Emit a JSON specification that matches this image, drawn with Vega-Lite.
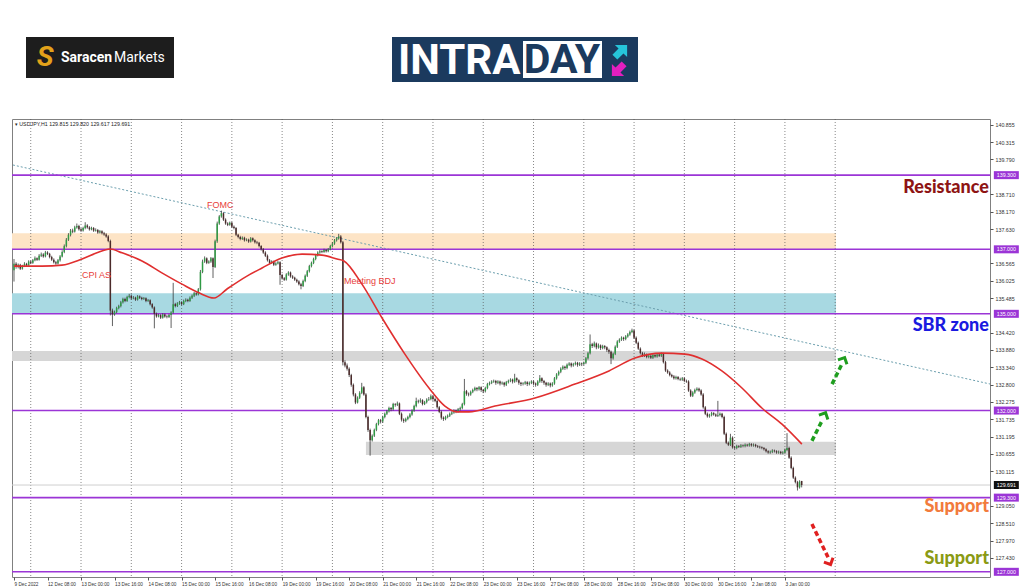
{
"$schema": "https://vega.github.io/schema/vega-lite/v6.json",
"padding": {"left": 10, "top": 0, "right": 0, "bottom": 0},
"spacing": 0,
"background": "white",
"config": {"view": {"stroke": null}, "font": "Liberation Sans", "axis": {"labelOverlap": false, "labelFlush": false, "labelBound": false, "title": null, "grid": false, "domain": false}, "scale": {"continuousPadding": 0}},
"vconcat": [
{
"width": 1014, "height": 118,
"data": {"values": [{}]},
"layer": [
{"mark": {"type": "rect", "color": "#1d1d1d"}, "encoding": {"x": {"datum": 24, "type": "quantitative", "scale": {"domain": [10, 1024], "nice": false, "zero": false}, "axis": null}, "x2": {"datum": 172}, "y": {"datum": 37, "type": "quantitative", "scale": {"domain": [0, 118], "reverse": true, "nice": false, "zero": false}, "axis": null}, "y2": {"datum": 78}}},
{"mark": {"type": "text", "text": "S", "font": "Roboto", "fontSize": 28, "fontWeight": "bold", "fontStyle": "italic", "color": "#e3a21a", "align": "center", "baseline": "middle"}, "encoding": {"x": {"datum": 43, "type": "quantitative"}, "y": {"datum": 58, "type": "quantitative"}}},
{"mark": {"type": "text", "text": "Saracen", "font": "Roboto", "fontSize": 14, "fontWeight": "bold", "color": "white", "align": "left", "baseline": "middle"}, "encoding": {"x": {"datum": 59, "type": "quantitative"}, "y": {"datum": 58, "type": "quantitative"}}},
{"mark": {"type": "text", "text": "Markets", "font": "Roboto", "fontSize": 14, "color": "white", "align": "left", "baseline": "middle"}, "encoding": {"x": {"datum": 112, "type": "quantitative"}, "y": {"datum": 58, "type": "quantitative"}}},
{"mark": {"type": "rect", "color": "#1b3a5e"}, "encoding": {"x": {"datum": 390, "type": "quantitative"}, "x2": {"datum": 636}, "y": {"datum": 37, "type": "quantitative"}, "y2": {"datum": 82}}},
{"mark": {"type": "text", "text": "INTRA", "font": "Roboto", "fontSize": 42, "fontWeight": "bold", "color": "white", "align": "left", "baseline": "middle"}, "encoding": {"x": {"datum": 396, "type": "quantitative"}, "y": {"datum": 61, "type": "quantitative"}}},
{"mark": {"type": "rect", "color": "white"}, "encoding": {"x": {"datum": 521, "type": "quantitative"}, "x2": {"datum": 600}, "y": {"datum": 41, "type": "quantitative"}, "y2": {"datum": 78}}},
{"mark": {"type": "text", "text": "DAY", "font": "Roboto", "fontSize": 41, "fontWeight": "bold", "color": "#1b3a5e", "align": "center", "baseline": "middle"}, "encoding": {"x": {"datum": 560, "type": "quantitative"}, "y": {"datum": 61, "type": "quantitative"}}},
{"mark": {"type": "point", "shape": "M0,-1L1,0L0.4,0L0.4,1L-0.4,1L-0.4,0L-1,0Z", "filled": true, "opacity": 1, "color": "#26c4da", "size": 300, "angle": 45}, "encoding": {"x": {"datum": 619, "type": "quantitative"}, "y": {"datum": 51, "type": "quantitative"}}},
{"mark": {"type": "point", "shape": "M0,-1L1,0L0.4,0L0.4,1L-0.4,1L-0.4,0L-1,0Z", "filled": true, "opacity": 1, "color": "#e31fbf", "size": 300, "angle": 225}, "encoding": {"x": {"datum": 616, "type": "quantitative"}, "y": {"datum": 70, "type": "quantitative"}}}
]
},
{
"width": 978, "height": 458,
"view": {"stroke": "#808080", "strokeWidth": 1},
"layer": [
{"data": {"values": [
{"zone": "orange", "b1": -0.95, "b2": 392.4, "p1": 137.0, "p2": 137.5},
{"zone": "blue", "b1": -0.95, "b2": 392.4, "p1": 135.0, "p2": 135.64},
{"zone": "gray", "b1": -0.95, "b2": 392.4, "p1": 133.54, "p2": 133.85},
{"zone": "gray", "b1": 168, "b2": 392.4, "p1": 130.62, "p2": 131.03}]},
"mark": {"type": "rect"},
"encoding": {
"x": {"field": "b1", "type": "quantitative", "scale": {"domain": [-0.95, 465.9], "nice": false, "zero": false, "padding": 0},
 "axis": {"title": null, "tickCount": 40, "values": [0,16,32,48,64,80,96,112,128,144,160,176,192,208,224,240,256,272,288,304,320,336,352,368],
 "labelExpr": "['9 Dec 2022','12 Dec 08:00','13 Dec 00:00','13 Dec 16:00','14 Dec 08:00','15 Dec 00:00','15 Dec 16:00','16 Dec 08:00','19 Dec 00:00','19 Dec 16:00','20 Dec 08:00','21 Dec 00:00','21 Dec 16:00','22 Dec 08:00','23 Dec 00:00','23 Dec 16:00','27 Dec 08:00','28 Dec 00:00','28 Dec 16:00','29 Dec 08:00','30 Dec 00:00','30 Dec 16:00','2 Jan 08:00','3 Jan 00:00'][round(datum.value/16)]",
 "labelAlign": "left", "labelFontSize": 4.7, "labelColor": "#333", "tickSize": 3, "tickColor": "#555", "domain": false, "grid": false, "labelPadding": 1, "labelOverlap": false, "labelFlush": false, "labelBound": false}},
"x2": {"field": "b2"},
"y": {"field": "p1", "type": "quantitative", "scale": {"domain": [126.839, 141.041], "nice": false, "zero": false, "padding": 0},
 "axis": {"title": null, "orient": "right", "tickCount": 40, "values": [140.855,140.315,139.79,138.71,138.17,137.63,136.565,136.025,135.485,134.42,133.88,133.34,132.8,132.275,131.735,131.195,130.655,130.115,129.05,128.51,127.97,127.43],
 "format": ".3f", "labelFontSize": 5.3, "labelColor": "#333", "tickSize": 3, "tickColor": "#555", "domain": false, "grid": false, "labelPadding": 2, "labelOverlap": false, "labelFlush": false}},
"y2": {"field": "p2"},
"fill": {"field": "zone", "type": "nominal", "scale": {"domain": ["orange", "blue", "gray"], "range": ["#fde4c6", "#a8d9e2", "#d6d6d6"]}, "legend": null}
}},
{"data": {"values": [{"g":8},{"g":32},{"g":56},{"g":80},{"g":104},{"g":128},{"g":152},{"g":176},{"g":200},{"g":224},{"g":248},{"g":272},{"g":296},{"g":320},{"g":344},{"g":368},{"g":392}]},
 "mark": {"type": "rule", "color": "#555", "strokeDash": [1, 2], "strokeWidth": 0.7},
 "encoding": {"x": {"field": "g", "type": "quantitative"}}},
{"data": {"values": [{"b": -0.5, "p": 139.615}, {"b": 465.9, "p": 132.824}]},
 "mark": {"type": "line", "color": "#6c9fae", "strokeDash": [2, 2], "strokeWidth": 1},
 "encoding": {"x": {"field": "b", "type": "quantitative"}, "y": {"field": "p", "type": "quantitative"}}},
{"data": {"values": [{"p": 129.691}]},
 "mark": {"type": "rule", "color": "#cfcfcf", "strokeWidth": 1},
 "encoding": {"y": {"field": "p", "type": "quantitative"}}},
{"data": {"values": [{"p": 139.3}, {"p": 137.0}, {"p": 135.0}, {"p": 132.0}, {"p": 129.3}, {"p": 127.0}]},
 "mark": {"type": "rule", "color": "#9b35d6", "strokeWidth": 1.6},
 "encoding": {"y": {"field": "p", "type": "quantitative"}}},
{"data": {"values": "i,o,h,l,c\n0,136.35,136.70,136.00,136.55\n1,136.55,136.60,136.40,136.45\n2,136.45,136.56,136.41,136.52\n3,136.52,136.55,136.36,136.40\n4,136.40,136.52,136.37,136.48\n5,136.48,136.60,136.45,136.55\n6,136.55,136.58,136.46,136.50\n7,136.50,136.66,136.48,136.62\n8,136.62,136.65,136.54,136.58\n9,136.58,136.70,136.55,136.66\n10,136.66,136.78,136.63,136.72\n11,136.72,136.75,136.64,136.68\n12,136.68,136.85,136.65,136.80\n13,136.80,136.90,136.76,136.84\n14,136.84,136.88,136.74,136.78\n15,136.78,136.95,136.75,136.90\n16,136.90,136.94,136.82,136.86\n17,136.86,136.89,136.72,136.76\n18,136.76,136.80,136.64,136.68\n19,136.68,136.72,136.56,136.60\n20,136.60,136.64,136.52,136.56\n21,136.56,136.70,136.53,136.66\n22,136.66,136.82,136.62,136.78\n23,136.78,136.97,136.75,136.92\n24,136.92,137.15,136.88,137.10\n25,137.10,137.35,137.06,137.30\n26,137.30,137.50,137.26,137.45\n27,137.45,137.63,137.40,137.58\n28,137.58,137.64,137.50,137.55\n29,137.55,137.73,137.52,137.68\n30,137.68,137.80,137.64,137.72\n31,137.72,137.76,137.58,137.62\n32,137.62,137.66,137.54,137.58\n33,137.58,137.70,137.55,137.66\n34,137.66,137.84,137.62,137.74\n35,137.74,137.78,137.64,137.68\n36,137.68,137.72,137.58,137.62\n37,137.62,137.70,137.59,137.66\n38,137.66,137.69,137.54,137.58\n39,137.58,137.65,137.55,137.60\n40,137.60,137.63,137.48,137.52\n41,137.52,137.60,137.49,137.56\n42,137.56,137.59,137.46,137.50\n43,137.50,137.54,137.42,137.46\n44,137.46,137.50,137.36,137.40\n45,137.40,137.44,137.22,137.26\n46,137.26,137.30,134.95,135.10\n47,135.10,135.16,134.62,134.98\n48,134.98,135.10,134.94,135.06\n49,135.06,135.22,135.02,135.18\n50,135.18,135.28,135.14,135.24\n51,135.24,135.40,135.20,135.36\n52,135.36,135.50,135.32,135.46\n53,135.46,135.50,135.36,135.40\n54,135.40,135.56,135.37,135.52\n55,135.52,135.62,135.48,135.56\n56,135.56,135.60,135.44,135.48\n57,135.48,135.55,135.45,135.50\n58,135.50,135.53,135.40,135.44\n59,135.44,135.58,135.41,135.54\n60,135.54,135.57,135.46,135.50\n61,135.50,135.53,135.42,135.46\n62,135.46,135.52,135.43,135.48\n63,135.48,135.51,135.36,135.40\n64,135.40,135.46,135.37,135.42\n65,135.42,135.45,135.26,135.30\n66,135.30,135.33,135.16,135.20\n67,135.20,135.23,134.55,135.00\n68,135.00,135.04,134.88,134.92\n69,134.92,135.00,134.89,134.96\n70,134.96,134.99,134.84,134.88\n71,134.88,135.02,134.85,134.98\n72,134.98,135.01,134.88,134.92\n73,134.92,134.96,134.86,134.90\n74,134.90,135.00,134.87,134.96\n75,134.96,135.08,134.56,135.04\n76,135.04,135.96,135.01,135.30\n77,135.30,135.34,135.20,135.24\n78,135.24,135.36,135.21,135.32\n79,135.32,135.40,135.28,135.36\n80,135.36,135.39,135.26,135.30\n81,135.30,135.44,135.27,135.40\n82,135.40,135.48,135.36,135.44\n83,135.44,135.47,135.36,135.40\n84,135.40,135.54,135.37,135.50\n85,135.50,135.60,135.46,135.56\n86,135.56,135.68,135.52,135.64\n87,135.64,135.67,135.56,135.60\n88,135.60,135.80,135.57,135.76\n89,135.76,136.36,135.72,136.30\n90,136.30,136.68,136.26,136.62\n91,136.62,136.78,136.58,136.72\n92,136.72,136.75,136.54,136.58\n93,136.58,136.66,136.55,136.62\n94,136.62,136.76,136.58,136.72\n95,136.72,136.75,136.11,136.45\n96,136.45,137.30,136.42,137.25\n97,137.25,137.86,137.20,137.80\n98,137.80,138.06,137.76,138.02\n99,138.02,138.20,137.98,138.12\n100,138.12,138.15,137.88,137.92\n101,137.92,137.96,137.76,137.80\n102,137.80,137.84,137.72,137.76\n103,137.76,137.86,137.73,137.82\n104,137.82,137.85,137.66,137.70\n105,137.70,137.74,137.62,137.66\n106,137.66,137.69,137.41,137.45\n107,137.45,137.48,137.34,137.38\n108,137.38,137.42,137.28,137.32\n109,137.32,137.40,137.29,137.36\n110,137.36,137.39,137.24,137.28\n111,137.28,137.34,137.25,137.30\n112,137.30,137.33,137.20,137.24\n113,137.24,137.38,137.21,137.34\n114,137.34,137.37,137.24,137.28\n115,137.28,137.31,137.18,137.22\n116,137.22,137.26,137.16,137.20\n117,137.20,137.23,137.06,137.10\n118,137.10,137.13,136.96,137.00\n119,137.00,137.04,136.86,136.90\n120,136.90,136.94,136.76,136.80\n121,136.80,136.84,136.62,136.66\n122,136.66,136.70,136.54,136.58\n123,136.58,136.66,136.55,136.62\n124,136.62,136.65,136.48,136.52\n125,136.52,136.60,136.49,136.56\n126,136.56,136.64,136.53,136.60\n127,136.60,136.63,135.90,136.20\n128,136.20,136.24,136.06,136.10\n129,136.10,136.14,136.02,136.06\n130,136.06,136.26,136.03,136.22\n131,136.22,136.32,136.18,136.28\n132,136.28,136.31,136.12,136.16\n133,136.16,136.20,136.08,136.12\n134,136.12,136.15,136.02,136.06\n135,136.06,136.09,135.96,136.00\n136,136.00,136.04,135.88,135.92\n137,135.92,135.96,135.76,135.86\n138,135.86,136.06,135.83,136.02\n139,136.02,136.22,135.98,136.18\n140,136.18,136.36,136.14,136.32\n141,136.32,136.52,136.28,136.48\n142,136.48,136.62,136.44,136.58\n143,136.58,136.74,136.54,136.70\n144,136.70,136.86,136.66,136.82\n145,136.82,136.94,136.78,136.90\n146,136.90,136.98,136.86,136.94\n147,136.94,136.97,136.88,136.92\n148,136.92,137.02,136.89,136.98\n149,136.98,137.01,136.90,136.94\n150,136.94,137.04,136.91,137.00\n151,137.00,137.14,136.97,137.10\n152,137.10,137.22,137.06,137.18\n153,137.18,137.32,137.14,137.28\n154,137.28,137.38,137.24,137.34\n155,137.34,137.48,137.30,137.40\n156,137.40,137.44,137.18,137.22\n157,137.22,137.26,133.40,133.50\n158,133.50,133.56,133.34,133.40\n159,133.40,133.46,133.24,133.30\n160,133.30,133.34,133.04,133.10\n161,133.10,133.14,132.74,132.80\n162,132.80,132.84,132.44,132.50\n163,132.50,132.54,132.20,132.25\n164,132.25,132.44,132.22,132.40\n165,132.40,132.60,132.36,132.55\n166,132.55,132.86,132.51,132.72\n167,132.72,132.76,132.46,132.50\n168,132.50,132.54,131.76,131.80\n169,131.80,131.84,131.34,131.40\n170,131.40,131.44,130.60,131.08\n171,131.08,131.26,131.04,131.22\n172,131.22,131.44,131.18,131.40\n173,131.40,131.62,131.36,131.58\n174,131.58,131.74,131.54,131.70\n175,131.70,131.74,131.60,131.66\n176,131.66,131.84,131.62,131.80\n177,131.80,131.94,131.76,131.90\n178,131.90,132.02,131.86,131.98\n179,131.98,132.12,131.94,132.08\n180,132.08,132.11,131.98,132.04\n181,132.04,132.24,132.00,132.20\n182,132.20,132.23,132.12,132.18\n183,132.18,132.28,132.14,132.22\n184,132.22,132.25,131.86,131.90\n185,131.90,131.94,131.66,131.72\n186,131.72,131.76,131.62,131.68\n187,131.68,131.78,131.64,131.74\n188,131.74,131.84,131.70,131.80\n189,131.80,131.92,131.76,131.88\n190,131.88,132.04,131.84,132.00\n191,132.00,132.18,131.96,132.14\n192,132.14,132.40,132.10,132.30\n193,132.30,132.34,132.22,132.28\n194,132.28,132.38,132.24,132.32\n195,132.32,132.35,132.16,132.20\n196,132.20,132.30,132.17,132.26\n197,132.26,132.38,132.22,132.34\n198,132.34,132.42,132.30,132.36\n199,132.36,132.50,132.32,132.44\n200,132.44,132.47,132.30,132.36\n201,132.36,132.40,132.26,132.30\n202,132.30,132.34,132.06,132.10\n203,132.10,132.14,131.92,131.96\n204,131.96,132.00,131.72,131.78\n205,131.78,131.82,131.68,131.74\n206,131.74,131.84,131.70,131.80\n207,131.80,131.88,131.76,131.84\n208,131.84,131.94,131.80,131.90\n209,131.90,131.98,131.86,131.94\n210,131.94,132.04,131.90,132.00\n211,132.00,132.03,131.92,131.98\n212,131.98,132.08,131.94,132.04\n213,132.04,132.12,132.00,132.08\n214,132.08,132.24,132.04,132.20\n215,132.20,132.98,132.16,132.60\n216,132.60,132.64,132.46,132.52\n217,132.52,132.56,132.44,132.50\n218,132.50,132.62,132.46,132.58\n219,132.58,132.68,132.54,132.64\n220,132.64,132.74,132.60,132.70\n221,132.70,132.73,132.60,132.66\n222,132.66,132.76,132.62,132.72\n223,132.72,132.75,132.58,132.64\n224,132.64,132.67,132.54,132.60\n225,132.60,132.74,132.56,132.70\n226,132.70,132.86,132.66,132.82\n227,132.82,132.90,132.78,132.86\n228,132.86,132.94,132.82,132.90\n229,132.90,132.96,132.86,132.92\n230,132.92,132.95,132.80,132.86\n231,132.86,132.94,132.82,132.90\n232,132.90,132.93,132.78,132.84\n233,132.84,132.90,132.80,132.86\n234,132.86,132.89,132.74,132.80\n235,132.80,132.92,132.76,132.88\n236,132.88,132.96,132.84,132.92\n237,132.92,133.00,132.88,132.96\n238,132.96,132.99,132.84,132.90\n239,132.90,133.14,132.86,133.00\n240,133.00,133.03,132.88,132.94\n241,132.94,132.97,132.80,132.86\n242,132.86,132.89,132.76,132.82\n243,132.82,132.88,132.78,132.84\n244,132.84,132.92,132.80,132.88\n245,132.88,132.91,132.76,132.82\n246,132.82,132.90,132.78,132.86\n247,132.86,132.94,132.82,132.90\n248,132.90,132.93,132.78,132.84\n249,132.84,132.87,132.74,132.80\n250,132.80,132.94,132.76,132.90\n251,132.90,133.10,132.86,133.00\n252,133.00,133.03,132.86,132.92\n253,132.92,132.95,132.80,132.86\n254,132.86,132.89,132.74,132.80\n255,132.80,132.88,132.76,132.84\n256,132.84,132.87,132.72,132.78\n257,132.78,132.88,132.74,132.84\n258,132.84,133.04,132.80,133.00\n259,133.00,133.16,132.96,133.12\n260,133.12,133.24,133.08,133.20\n261,133.20,133.34,133.16,133.30\n262,133.30,133.40,133.26,133.36\n263,133.36,133.39,133.26,133.32\n264,133.32,133.46,133.28,133.42\n265,133.42,133.50,133.38,133.46\n266,133.46,133.49,133.34,133.40\n267,133.40,133.48,133.36,133.44\n268,133.44,133.52,133.40,133.48\n269,133.48,133.51,133.36,133.42\n270,133.42,133.50,133.38,133.46\n271,133.46,133.49,133.38,133.44\n272,133.44,133.52,133.40,133.48\n273,133.48,133.66,133.44,133.62\n274,133.62,133.82,133.58,133.78\n275,133.78,134.36,133.74,134.06\n276,134.06,134.10,133.94,134.00\n277,134.00,134.14,133.96,134.08\n278,134.08,134.11,133.90,133.96\n279,133.96,134.08,133.92,134.02\n280,134.02,134.05,133.88,133.94\n281,133.94,134.04,133.90,134.00\n282,134.00,134.03,133.90,133.96\n283,133.96,133.99,133.82,133.88\n284,133.88,133.92,133.76,133.82\n285,133.82,133.86,133.44,133.62\n286,133.62,133.80,133.58,133.76\n287,133.76,134.02,133.72,133.98\n288,133.98,134.18,133.94,134.14\n289,134.14,134.24,134.10,134.20\n290,134.20,134.30,134.16,134.26\n291,134.26,134.29,134.16,134.22\n292,134.22,134.34,134.18,134.30\n293,134.30,134.40,134.26,134.36\n294,134.36,134.48,134.32,134.44\n295,134.44,134.54,134.40,134.48\n296,134.48,134.51,134.22,134.26\n297,134.26,134.30,134.06,134.10\n298,134.10,134.14,133.88,133.92\n299,133.92,133.96,133.74,133.78\n300,133.78,133.82,133.66,133.70\n301,133.70,133.80,133.66,133.74\n302,133.74,133.77,133.62,133.66\n303,133.66,133.74,133.62,133.70\n304,133.70,133.73,133.60,133.64\n305,133.64,133.76,133.60,133.72\n306,133.72,133.75,133.64,133.68\n307,133.68,133.78,133.64,133.74\n308,133.74,133.77,133.66,133.70\n309,133.70,133.80,133.66,133.76\n310,133.76,133.79,133.46,133.50\n311,133.50,133.54,133.20,133.24\n312,133.24,133.28,133.14,133.18\n313,133.18,133.22,133.06,133.10\n314,133.10,133.14,133.02,133.06\n315,133.06,133.10,132.96,133.00\n316,133.00,133.08,132.96,133.04\n317,133.04,133.07,132.94,132.98\n318,132.98,133.02,132.92,132.96\n319,132.96,133.04,132.92,133.00\n320,133.00,133.03,132.88,132.92\n321,132.92,132.96,132.86,132.90\n322,132.90,132.94,132.58,132.62\n323,132.62,132.66,132.42,132.46\n324,132.46,132.60,132.42,132.56\n325,132.56,132.68,132.52,132.64\n326,132.64,132.72,132.60,132.68\n327,132.68,132.71,132.58,132.62\n328,132.62,132.66,132.46,132.50\n329,132.50,132.54,132.06,132.10\n330,132.10,132.14,131.86,131.90\n331,131.90,131.94,131.78,131.82\n332,131.82,131.90,131.78,131.86\n333,131.86,131.96,131.82,131.92\n334,131.92,131.95,131.84,131.88\n335,131.88,131.91,131.80,131.84\n336,131.84,132.30,131.80,131.86\n337,131.86,131.94,131.82,131.90\n338,131.90,131.93,131.76,131.80\n339,131.80,131.84,131.24,131.28\n340,131.28,131.32,130.96,131.00\n341,131.00,131.04,130.90,130.94\n342,130.94,131.28,130.90,131.16\n343,131.16,131.20,130.82,130.86\n344,130.86,130.90,130.80,130.84\n345,130.84,130.94,130.80,130.90\n346,130.90,130.93,130.84,130.88\n347,130.88,130.96,130.84,130.92\n348,130.92,130.95,130.86,130.90\n349,130.90,130.98,130.86,130.94\n350,130.94,130.97,130.88,130.92\n351,130.92,131.00,130.88,130.96\n352,130.96,130.99,130.88,130.92\n353,130.92,130.98,130.88,130.94\n354,130.94,130.97,130.86,130.90\n355,130.90,130.93,130.84,130.88\n356,130.88,130.91,130.82,130.86\n357,130.86,130.89,130.80,130.84\n358,130.84,130.87,130.76,130.80\n359,130.80,130.83,130.70,130.74\n360,130.74,130.77,130.66,130.70\n361,130.70,130.76,130.66,130.72\n362,130.72,130.80,130.68,130.76\n363,130.76,130.79,130.70,130.74\n364,130.74,130.77,130.66,130.70\n365,130.70,130.76,130.66,130.72\n366,130.72,130.75,130.64,130.68\n367,130.68,130.74,130.64,130.70\n368,130.70,130.82,130.66,130.78\n369,130.78,131.30,130.74,130.84\n370,130.84,130.88,130.50,130.54\n371,130.54,130.58,130.18,130.22\n372,130.22,130.26,129.88,129.92\n373,129.92,129.96,129.74,129.78\n374,129.78,129.82,129.52,129.62\n375,129.62,129.84,129.58,129.80\n376,129.815,129.82,129.617,129.691", "format": {"type": "csv", "parse": {"i": "number", "o": "number", "h": "number", "l": "number", "c": "number"}}},
 "layer": [
  {"mark": {"type": "rule", "color": "#3a3a3a", "strokeWidth": 0.8}, "encoding": {"x": {"field": "i", "type": "quantitative"}, "y": {"field": "l", "type": "quantitative"}, "y2": {"field": "h"}}},
  {"mark": {"type": "bar", "size": 1.5}, "encoding": {"x": {"field": "i", "type": "quantitative"}, "y": {"field": "o", "type": "quantitative"}, "y2": {"field": "c"}, "color": {"condition": {"test": "datum.c >= datum.o", "value": "#2f9a44"}, "value": "#4b2a2a"}}}
 ]},
{"data": {"values": [
{"b": 0, "p": 136.48}, {"b": 13.4, "p": 136.48}, {"b": 22.9, "p": 136.51}, {"b": 32.5, "p": 136.70}, {"b": 39.6, "p": 136.89}, {"b": 45.8, "p": 137.01}, {"b": 51.6, "p": 136.89}, {"b": 61.1, "p": 136.64}, {"b": 70.6, "p": 136.27}, {"b": 80.2, "p": 135.92}, {"b": 88.3, "p": 135.65}, {"b": 95.5, "p": 135.49}, {"b": 101.7, "p": 135.77}, {"b": 111.2, "p": 136.17}, {"b": 118.4, "p": 136.42}, {"b": 127.9, "p": 136.73}, {"b": 137.5, "p": 136.85}, {"b": 147.0, "p": 136.82}, {"b": 154.2, "p": 136.70}, {"b": 157.5, "p": 136.64}, {"b": 166.1, "p": 135.92}, {"b": 175.7, "p": 134.87}, {"b": 186.6, "p": 133.75}, {"b": 198.1, "p": 132.70}, {"b": 205.7, "p": 132.14}, {"b": 211.5, "p": 131.96}, {"b": 217.2, "p": 131.96}, {"b": 229.6, "p": 132.14}, {"b": 248.7, "p": 132.39}, {"b": 267.8, "p": 132.82}, {"b": 284.0, "p": 133.23}, {"b": 296.4, "p": 133.63}, {"b": 309.3, "p": 133.78}, {"b": 320.3, "p": 133.75}, {"b": 328.4, "p": 133.60}, {"b": 337.9, "p": 133.23}, {"b": 347.5, "p": 132.70}, {"b": 357.0, "p": 132.08}, {"b": 366.6, "p": 131.58}, {"b": 376.1, "p": 130.96}]},
 "mark": {"type": "line", "color": "#e02f2f", "strokeWidth": 1.6, "interpolate": "monotone"},
 "encoding": {"x": {"field": "b", "type": "quantitative"}, "y": {"field": "p", "type": "quantitative"}}},
{"data": {"values": [{"t": "FOMC", "b": 92.1, "p": 138.374}, {"t": "CPI AS", "b": 32.5, "p": 136.204}, {"t": "Meeting BDJ", "b": 157.5, "p": 136.018}]},
 "mark": {"type": "text", "align": "left", "baseline": "middle", "fontSize": 9, "color": "#e8403a", "font": "Liberation Sans"},
 "encoding": {"x": {"field": "b", "type": "quantitative"}, "y": {"field": "p", "type": "quantitative"}, "text": {"field": "t"}}},
{"data": {"values": [{"t": "Resistance", "k": "r", "p": 138.90}, {"t": "SBR zone", "k": "s", "p": 134.62}, {"t": "Support", "k": "s1", "p": 129.0}, {"t": "Support", "k": "s2", "p": 127.40}]},
 "mark": {"type": "text", "align": "right", "baseline": "middle", "fontSize": 18, "fontWeight": 900, "font": "Lato"},
 "encoding": {"x": {"datum": 465.4, "type": "quantitative"}, "y": {"field": "p", "type": "quantitative"}, "text": {"field": "t"},
  "color": {"field": "k", "type": "nominal", "scale": {"domain": ["r", "s", "s1", "s2"], "range": ["#8e1414", "#1a1ae0", "#f27b3c", "#8a9a14"]}, "legend": null}}},
{"data": {"values": [{"a": 1, "b": 380.9, "p": 131.06}, {"a": 1, "b": 386.0, "p": 131.72}, {"a": 2, "b": 390.5, "p": 132.82}, {"a": 2, "b": 395.2, "p": 133.44}]},
 "mark": {"type": "line", "color": "#1f9e1f", "strokeWidth": 3.5, "strokeDash": [5, 3], "strokeCap": "butt"},
 "encoding": {"x": {"field": "b", "type": "quantitative"}, "y": {"field": "p", "type": "quantitative"}, "detail": {"field": "a"}}},
{"data": {"values": [{"b": 387.1, "p": 131.89}, {"b": 396.2, "p": 133.60}]},
 "mark": {"type": "point", "shape": "M-1,0.7L0,-0.3L1,0.7", "filled": false, "opacity": 1, "strokeWidth": 3, "size": 100, "angle": 26, "color": "#1f9e1f"},
 "encoding": {"x": {"field": "b", "type": "quantitative"}, "y": {"field": "p", "type": "quantitative"}}},
{"data": {"values": [{"b": 380.9, "p": 128.48}, {"b": 388.6, "p": 127.45}]},
 "mark": {"type": "line", "color": "#e02020", "strokeWidth": 3.5, "strokeDash": [5, 3], "strokeCap": "butt"},
 "encoding": {"x": {"field": "b", "type": "quantitative"}, "y": {"field": "p", "type": "quantitative"}}},
{"data": {"values": [{"b": 389.5, "p": 127.27}]},
 "mark": {"type": "point", "shape": "M-1,0.7L0,-0.3L1,0.7", "filled": false, "opacity": 1, "strokeWidth": 3, "size": 100, "angle": 155, "color": "#e02020"},
 "encoding": {"x": {"field": "b", "type": "quantitative"}, "y": {"field": "p", "type": "quantitative"}}},
{"data": {"values": [{"p": 139.3, "t": "139.300"}, {"p": 137.0, "t": "137.000"}, {"p": 135.0, "t": "135.000"}, {"p": 132.0, "t": "132.000"}, {"p": 129.3, "t": "129.300"}, {"p": 127.0, "t": "127.000"}]},
 "layer": [
  {"mark": {"type": "point", "shape": "M-1,-0.32H1V0.32H-1Z", "filled": true, "opacity": 1, "size": 625, "color": "#9b35d6", "clip": false}, "encoding": {"x": {"datum": 473.7, "type": "quantitative"}, "y": {"field": "p", "type": "quantitative"}}},
  {"mark": {"type": "text", "fontSize": 5.3, "color": "white", "align": "center", "baseline": "middle", "clip": false}, "encoding": {"x": {"datum": 473.7, "type": "quantitative"}, "y": {"field": "p", "type": "quantitative"}, "text": {"field": "t"}}}
 ]},
{"data": {"values": [{"p": 129.691, "t": "129.691"}]},
 "layer": [
  {"mark": {"type": "point", "shape": "M-1,-0.32H1V0.32H-1Z", "filled": true, "opacity": 1, "size": 625, "color": "#111111", "clip": false}, "encoding": {"x": {"datum": 473.7, "type": "quantitative"}, "y": {"field": "p", "type": "quantitative"}}},
  {"mark": {"type": "text", "fontSize": 5.3, "color": "white", "align": "center", "baseline": "middle", "clip": false}, "encoding": {"x": {"datum": 473.7, "type": "quantitative"}, "y": {"field": "p", "type": "quantitative"}, "text": {"field": "t"}}}
 ]},
{"data": {"values": [{"t": "▾ USDJPY,H1  129.815 129.820 129.617 129.691"}]},
 "mark": {"type": "text", "align": "left", "baseline": "middle", "fontSize": 5.3, "color": "#222"},
 "encoding": {"x": {"datum": 0.4, "type": "quantitative"}, "y": {"datum": 140.875, "type": "quantitative"}, "text": {"field": "t"}}}
]
}
]
}
